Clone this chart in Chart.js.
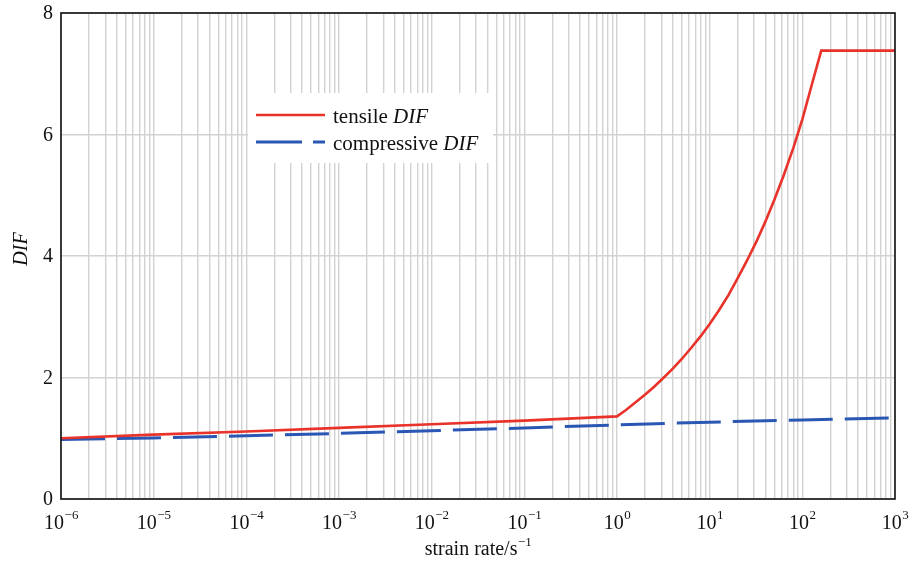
<!DOCTYPE html>
<html>
<head>
<meta charset="utf-8">
<script src="https://cdn.jsdelivr.net/npm/chart.js@4.4.1/dist/chart.umd.min.js"></script>
<style>
  html, body { margin: 0; padding: 0; background: #ffffff; }
  #wrap { width: 911px; height: 562px; position: relative; }
</style>
</head>
<body>
<div id="wrap"><canvas id="c" width="911" height="562"></canvas></div>
<script>
// ---- data ----
const tensileRate = [1e-6, 1e-5, 1e-4, 1e-3, 1e-2, 1e-1, 1, 1.25, 1.6, 2, 2.5, 3.2, 4, 5, 6.3, 8, 10, 12.5, 16, 20, 25, 32, 40, 50, 63, 80, 100, 125, 160, 1000];
const tensileDIF  = [1.00, 1.06, 1.11, 1.17, 1.23, 1.29, 1.36, 1.465, 1.595, 1.715, 1.845, 2.00, 2.145, 2.305, 2.485, 2.68, 2.88, 3.10, 3.36, 3.63, 3.91, 4.24, 4.57, 4.93, 5.33, 5.78, 6.25, 6.79, 7.38, 7.38];
const compRate = [1e-6, 1e-5, 1e-4, 1e-3, 1e-2, 1e-1, 1, 10, 100, 1000];
const compDIF  = [0.98, 1.005, 1.04, 1.08, 1.125, 1.17, 1.22, 1.265, 1.30, 1.335];
const seriesNames = ['tensile DIF', 'compressive DIF'];
const xDecadeExponents = [-6, -5, -4, -3, -2, -1, 0, 1, 2, 3];
const yTicks = [0, 2, 4, 6, 8];
const xTitle = 'strain rate/s';
const xTitleSup = '\u22121';
const yTitle = 'DIF';

const SERIF = '"Liberation Serif", "DejaVu Serif", serif';
const RED = '#e8322a';
const BLUE = '#2b57b4';

function toPoints(xs, ys) { return xs.map((x, i) => ({ x: x, y: ys[i] })); }
function supText(e) { return String(e).replace('-', '\u2212'); }

const decorPlugin = {
  id: 'decor',
  afterDatasetsDraw(chart) {
    const ctx = chart.ctx;
    const ca = chart.chartArea;
    ctx.save();
    // frame
    ctx.strokeStyle = '#111';
    ctx.lineWidth = 1.6;
    ctx.strokeRect(ca.left, ca.top, ca.right - ca.left, ca.bottom - ca.top);

    // legend
    ctx.fillStyle = '#ffffff';
    ctx.fillRect(248, 93, 245, 70);
    const rows = [
      { y: 115, color: RED, dash: [], width: 2.6, name: seriesNames[0] },
      { y: 142, color: BLUE, dash: [46, 11], width: 3, name: seriesNames[1] }
    ];
    rows.forEach(r => {
      ctx.beginPath();
      ctx.setLineDash(r.dash);
      ctx.strokeStyle = r.color;
      ctx.lineWidth = r.width;
      ctx.moveTo(256, r.y);
      ctx.lineTo(325, r.y);
      ctx.stroke();
      ctx.setLineDash([]);
      const idx = r.name.lastIndexOf(' ');
      const plain = r.name.slice(0, idx + 1);
      const ital = r.name.slice(idx + 1);
      ctx.fillStyle = '#111';
      ctx.textBaseline = 'alphabetic';
      ctx.textAlign = 'left';
      ctx.font = '21px ' + SERIF;
      ctx.fillText(plain, 333, r.y + 8);
      const w = ctx.measureText(plain).width;
      ctx.font = 'italic 21px ' + SERIF;
      ctx.fillText(ital, 333 + w, r.y + 8);
    });

    // y tick labels
    const ys = chart.scales.y;
    ctx.fillStyle = '#111';
    ctx.font = '20px ' + SERIF;
    ctx.textAlign = 'right';
    ctx.textBaseline = 'middle';
    yTicks.forEach(v => {
      ctx.fillText(String(v), ca.left - 8, ys.getPixelForValue(v) + 1);
    });

    // x tick labels 10^n
    const xs = chart.scales.x;
    ctx.textAlign = 'left';
    ctx.textBaseline = 'alphabetic';
    xDecadeExponents.forEach(e => {
      const px = xs.getPixelForValue(Math.pow(10, e));
      ctx.font = '20px ' + SERIF;
      const w1 = ctx.measureText('10').width;
      ctx.font = '13px ' + SERIF;
      const s = supText(e);
      const w2 = ctx.measureText(s).width;
      const left = px - (w1 + w2) / 2;
      ctx.font = '20px ' + SERIF;
      ctx.fillText('10', left, 529);
      ctx.font = '13px ' + SERIF;
      ctx.fillText(s, left + w1 + 0.5, 519);
    });

    // x title
    ctx.font = '20px ' + SERIF;
    const tw = ctx.measureText(xTitle).width;
    ctx.font = '13px ' + SERIF;
    const sw = ctx.measureText(xTitleSup).width;
    const cx = (ca.left + ca.right) / 2;
    const tl = cx - (tw + sw) / 2;
    ctx.font = '20px ' + SERIF;
    ctx.fillText(xTitle, tl, 555);
    ctx.font = '13px ' + SERIF;
    ctx.fillText(xTitleSup, tl + tw + 0.5, 546);

    // y title
    ctx.translate(27, 249);
    ctx.rotate(-Math.PI / 2);
    ctx.textAlign = 'center';
    ctx.font = 'italic 20px ' + SERIF;
    ctx.fillText(yTitle, 0, 0);
    ctx.restore();
  }
};

new Chart(document.getElementById('c'), {
  type: 'line',
  data: {
    datasets: [
      {
        label: seriesNames[0],
        data: toPoints(tensileRate, tensileDIF),
        borderColor: RED,
        borderWidth: 2.6,
        pointRadius: 0,
        tension: 0,
        fill: false
      },
      {
        label: seriesNames[1],
        data: toPoints(compRate, compDIF),
        borderColor: BLUE,
        borderWidth: 3,
        borderDash: [44, 12],
        pointRadius: 0,
        tension: 0,
        fill: false
      }
    ]
  },
  options: {
    responsive: false,
    animation: false,
    events: [],
    layout: { padding: { left: 0, right: 16, top: 13, bottom: 0 } },
    plugins: { legend: { display: false }, tooltip: { enabled: false } },
    scales: {
      x: {
        type: 'logarithmic',
        min: Math.pow(10, xDecadeExponents[0]),
        max: Math.pow(10, xDecadeExponents[xDecadeExponents.length - 1]),
        afterBuildTicks(scale) {
          const t = [];
          for (let i = 0; i < xDecadeExponents.length - 1; i++) {
            for (let k = 1; k <= 9; k++) t.push({ value: k * Math.pow(10, xDecadeExponents[i]) });
          }
          t.push({ value: Math.pow(10, xDecadeExponents[xDecadeExponents.length - 1]) });
          scale.ticks = t;
        },
        afterFit(scale) { scale.height = 63; },
        ticks: { display: false },
        grid: { color: '#d2d2d2', lineWidth: 1.4, drawTicks: false },
        border: { display: false }
      },
      y: {
        min: yTicks[0],
        max: yTicks[yTicks.length - 1],
        afterBuildTicks(scale) { scale.ticks = yTicks.map(v => ({ value: v })); },
        afterFit(scale) { scale.width = 61; },
        ticks: { display: false },
        grid: { color: '#d2d2d2', lineWidth: 1.4, drawTicks: false },
        border: { display: false }
      }
    }
  },
  plugins: [decorPlugin]
});
</script>
</body>
</html>
